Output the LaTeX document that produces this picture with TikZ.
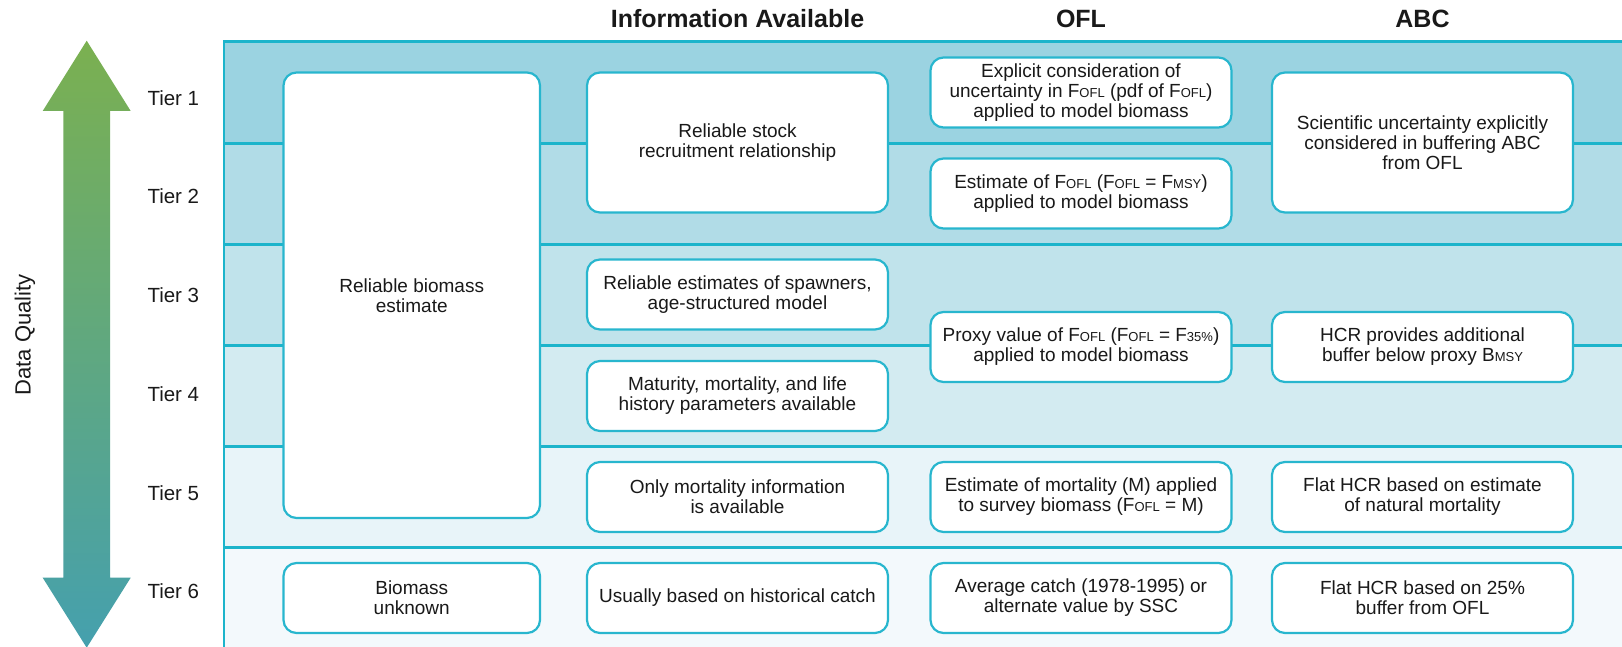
\documentclass[tikz,border=0pt]{standalone}
\usepackage{fontspec}
\setmainfont{Liberation Sans}
\newcommand{\lowtxt}[1]{{\fontsize{13}{13}\selectfont #1}}
\definecolor{rowA}{RGB}{155,211,225}
\definecolor{rowB}{RGB}{177,220,231}
\definecolor{rowC}{RGB}{192,227,235}
\definecolor{rowD}{RGB}{211,235,241}
\definecolor{rowE}{RGB}{232,244,249}
\definecolor{rowF}{RGB}{243,249,252}
\definecolor{gridline}{RGB}{28,180,203}
\definecolor{boxline}{RGB}{40,182,206}
\definecolor{arrowtop}{RGB}{123,176,80}
\definecolor{arrowbot}{RGB}{69,160,174}
\definecolor{txt}{RGB}{25,25,25}
\tikzset{
  cell/.style={draw=boxline, line width=2.2pt, fill=white, rounded corners=13pt,
    align=center, inner sep=2pt, text=txt, font=\fontsize{19}{20}\selectfont},
  smallcell/.style={cell, minimum height=70pt},
  tierlabel/.style={anchor=base west, text=txt, font=\fontsize{20.5}{22}\selectfont, inner sep=0pt},
  header/.style={anchor=base, text=txt, font=\fontsize{25}{26}\selectfont\bfseries, inner sep=0pt},
  gline/.style={draw=gridline, line width=2.5pt}
}
\begin{document}
\begin{tikzpicture}[x=1pt,y=-1pt]
\useasboundingbox (0,0) rectangle (1622,647);
% rows
\fill[rowA] (224,41.7) rectangle (1622,143.3);
\fill[rowB] (224,143.3) rectangle (1622,244.3);
\fill[rowC] (224,244.3) rectangle (1622,345.7);
\fill[rowD] (224,345.7) rectangle (1622,446.7);
\fill[rowE] (224,446.7) rectangle (1622,547.7);
\fill[rowF] (224,547.7) rectangle (1622,647);
\foreach \yy in {41.7,143.3,244.3,345.7,446.7,547.7}
  \draw[gline] (224,\yy) -- (1622,\yy);
\draw[gline] (224,40.45) -- (224,647);
% arrow
\shade[top color=arrowtop, bottom color=arrowbot]
  (86.7,40.7) -- (130.7,111) -- (110,111) -- (110,577.7) -- (130.7,577.7) -- (86.7,647.7)
  -- (42.7,577.7) -- (63.3,577.7) -- (63.3,111) -- (42.7,111) -- cycle;
\node[rotate=90, anchor=base, text=txt, font=\fontsize{22}{23}\selectfont, inner sep=0pt] (dq) at (30.7,335) {Data Quality};
% headers
\node[header] (hInfo) at (737.5,27.3) {Information Available};
\node[header] (hOFL) at (1081,27.3) {OFL};
\node[header] (hABC) at (1422.5,27.3) {ABC};
% tier labels
\node[tierlabel] (t1) at (147.3,105.5) {Tier 1};
\node[tierlabel] (t2) at (147.3,204) {Tier 2};
\node[tierlabel] (t3) at (147.3,302.7) {Tier 3};
\node[tierlabel] (t4) at (147.3,401) {Tier 4};
\node[tierlabel] (t5) at (147.3,500) {Tier 5};
\node[tierlabel] (t6) at (147.3,598.3) {Tier 6};
% column 1
\node[cell, minimum width=256.5pt, minimum height=445.5pt] (bio) at (411.75,295.25) {Reliable biomass\\estimate};
\node[smallcell, minimum width=256.5pt] (unk) at (411.75,598) {Biomass\\unknown};
% column 2
\node[cell, minimum width=301pt, minimum height=140pt] (stock) at (737.5,142.5) {Reliable stock\\recruitment relationship};
\node[smallcell, minimum width=301pt] (spawn) at (737.5,294.5) {Reliable estimates of spawners,\\age-structured model};
\node[smallcell, minimum width=301pt] (mat) at (737.5,396) {Maturity, mortality, and life\\history parameters available};
\node[smallcell, minimum width=301pt] (onlym) at (737.5,497) {Only mortality information\\is available};
\node[smallcell, minimum width=301pt] (usual) at (737.5,598) {Usually based on historical catch};
% column 3
\node[smallcell, minimum width=301pt] (expl) at (1081,92.5) {Explicit consideration of\\uncertainty in F\lowtxt{OFL} (pdf of F\lowtxt{OFL})\\applied to model biomass};
\node[smallcell, minimum width=301pt] (estF) at (1081,193.5) {Estimate of F\lowtxt{OFL} (F\lowtxt{OFL} = F\lowtxt{MSY})\\applied to model biomass};
\node[smallcell, minimum width=301pt] (proxy) at (1081,347) {Proxy value of F\lowtxt{OFL} (F\lowtxt{OFL} = F\lowtxt{35\%})\\applied to model biomass};
\node[smallcell, minimum width=301pt] (estM) at (1081,497) {Estimate of mortality (M) applied\\to survey biomass (F\lowtxt{OFL} = M)};
\node[smallcell, minimum width=301pt] (avg) at (1081,598) {Average catch (1978-1995) or\\alternate value by SSC};
% column 4
\node[cell, minimum width=301pt, minimum height=140pt] (sci) at (1422.5,142.5) {Scientific uncertainty explicitly\\considered in buffering ABC\\from OFL};
\node[smallcell, minimum width=301pt] (hcr) at (1422.5,347) {HCR provides additional\\buffer below proxy B\lowtxt{MSY}};
\node[smallcell, minimum width=301pt] (flat1) at (1422.5,497) {Flat HCR based on estimate\\of natural mortality};
\node[smallcell, minimum width=301pt] (flat2) at (1422.5,598) {Flat HCR based on 25\%\\buffer from OFL};
\end{tikzpicture}
\end{document}
